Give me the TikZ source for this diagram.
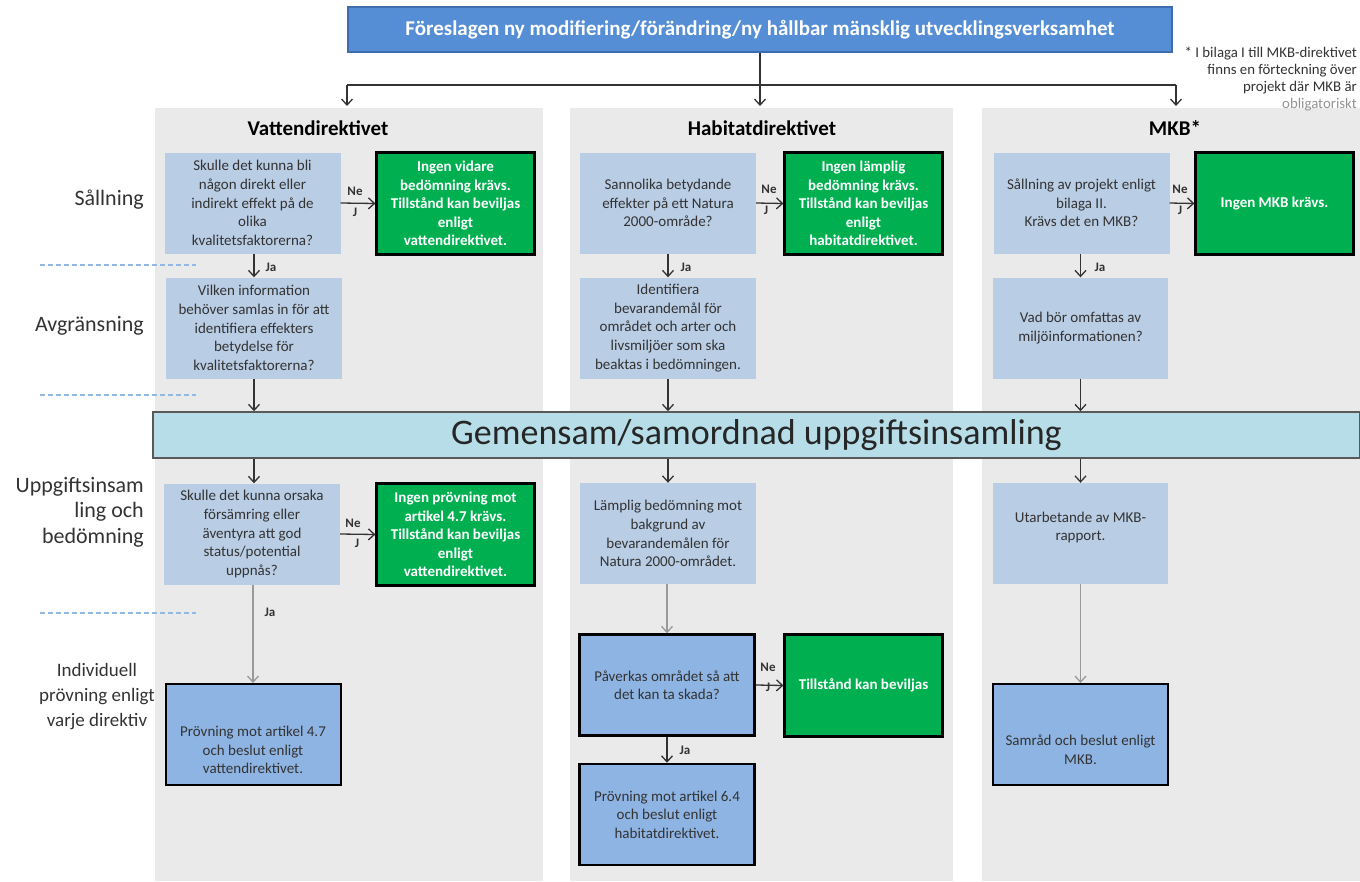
\documentclass[tikz,border=0pt]{standalone}
\usepackage{fontspec}
\setmainfont{Carlito}
\usetikzlibrary{arrows.meta}
\definecolor{colbg}{HTML}{EAEAEA}
\definecolor{lightbox}{HTML}{B9CDE5}
\definecolor{darkbox}{HTML}{8EB4E3}
\definecolor{okgreen}{HTML}{00B050}
\definecolor{topblue}{HTML}{558ED5}
\definecolor{topedge}{HTML}{3E6DAE}
\definecolor{banner}{HTML}{B7DEE8}
\definecolor{ink}{HTML}{333333}
\definecolor{dashblue}{HTML}{95B7E3}
\tikzset{
  qbox/.style={fill=lightbox, draw=none, align=center, text=ink,
    minimum width=176pt, minimum height=101pt, inner sep=2pt,
    font=\fontsize{15}{18.7}\selectfont},
  okbox/.style={fill=okgreen, draw=black, line width=2.2pt, align=center, text=white,
    minimum width=158pt, minimum height=102pt, inner sep=2pt,
    font=\fontsize{15}{18.5}\selectfont\bfseries},
  decbox/.style={fill=darkbox, draw=black, line width=2pt, align=center, text=ink,
    minimum width=175pt, minimum height=101pt, inner sep=2pt,
    font=\fontsize{15}{18.5}\selectfont},
  plain/.style={align=center, text=ink, inner sep=0pt, font=\fontsize{15}{18.7}\selectfont},
  coltitle/.style={text=black, inner sep=0pt, font=\fontsize{21}{25}\selectfont\bfseries},
  rowlabel/.style={text=ink, inner sep=0pt, font=\fontsize{22}{25.5}\selectfont},
  tag/.style={text=ink, inner sep=0pt, font=\fontsize{13}{15}\selectfont\bfseries},
  arr/.style={draw=ink, line width=1.3pt, -{Straight Barb[length=6pt,width=11pt]}},
  grayarr/.style={draw=gray!80, line width=1.3pt, -{Straight Barb[length=6pt,width=11pt]}},
  conn/.style={draw=ink, line width=1.3pt},
  sep/.style={draw=dashblue, line width=2pt, dash pattern=on 5pt off 3pt},
}
\begin{document}
\begin{tikzpicture}[x=1pt,y=-1pt]
\useasboundingbox (0,0) rectangle (1360,881);

% column backgrounds
\fill[colbg] (155,108) rectangle (543,881);
\fill[colbg] (570,108) rectangle (953,881);
\fill[colbg] (982,108) rectangle (1360,881);

% stage separators
\draw[sep] (40,265) -- (196,265);
\draw[sep] (40,395) -- (196,395);
\draw[sep] (40,613) -- (196,613);

% stage labels
\node[rowlabel, anchor=east] (lsal) at (144,200) {Sållning};
\node[rowlabel, anchor=east] (lavg) at (144,326) {Avgränsning};
\node[rowlabel, anchor=east, align=right] (lupp) at (144,512) {Uppgiftsinsam\\ling och\\bedömning};
\node[rowlabel, align=center, font=\fontsize{19}{25}\selectfont] (lind) at (97,697) {Individuell\\prövning enligt\\varje direktiv};

% proposal
\node[fill=topblue, draw=topedge, line width=1.5pt, minimum width=824pt, minimum height=45pt,
  text=white, font=\fontsize{21}{25}\selectfont\bfseries] (top) at (760,29.5)
  {Föreslagen ny modifiering/förändring/ny hållbar mänsklig utvecklingsverksamhet};

\node[anchor=north east, align=right, inner sep=0pt, text=ink,
  font=\fontsize{14.8}{16.8}\selectfont] (note) at (1357,47)
  {* I bilaga I till MKB-direktivet\\finns en förteckning över\\projekt där MKB är\\\textcolor{gray!85}{obligatoriskt}};

\coordinate (hl) at (347,85);
\coordinate (hr) at (1176,85);
\coordinate (ea) at (347,106);
\coordinate (eb) at (760,106);
\coordinate (ec) at (1176,106);
\draw[conn] (hl) -- (hr);
\draw[arr] (top.south) -- (eb);
\draw[arr] (hl) -- (ea);
\draw[arr] (hr) -- (ec);

% column titles
\node[coltitle] (tv) at (318,128) {Vattendirektivet};
\node[coltitle] (th) at (762,128) {Habitatdirektivet};
\node[coltitle] (tm) at (1175,128) {MKB*};

% screening row
\node[qbox] (v1) at (252.5,203) {Skulle det kunna bli\\någon direkt eller\\indirekt effekt på de\\olika\\kvalitetsfaktorerna?};
\node[okbox] (vg1) at (455.5,203.5) {Ingen vidare\\bedömning krävs.\\Tillstånd kan beviljas\\enligt\\vattendirektivet.};
\node[qbox] (h1) at (668,203) {Sannolika betydande\\effekter på ett Natura\\2000-område?};
\node[okbox] (hg1) at (863.5,203.5) {Ingen lämplig\\bedömning krävs.\\Tillstånd kan beviljas\\enligt\\habitatdirektivet.};
\node[qbox] (m1) at (1081.5,203) {Sållning av projekt enligt\\bilaga II.\\Krävs det en MKB?};
\node[okbox] (mg1) at (1274.5,203.5) {Ingen MKB krävs.};

% scoping row
\node[qbox] (v2) at (254,328) {Vilken information\\behöver samlas in för att\\identifiera effekters\\betydelse för\\kvalitetsfaktorerna?};
\node[qbox] (h2) at (668,328) {Identifiera\\bevarandemål för\\området och arter och\\livsmiljöer som ska\\beaktas i bedömningen.};
\node[qbox, minimum width=175pt] (m2) at (1080.5,328) {Vad bör omfattas av\\miljöinformationen?};

% joint data collection
\node[fill=banner, draw=gray!70!black, line width=1.5pt, minimum width=1207pt, minimum height=46pt,
  text=black!85, font=\fontsize{36}{40}\selectfont] (band) at (756.5,435)
  {Gemensam/samordnad uppgiftsinsamling};

% assessment row
\node[qbox] (v3) at (252,534) {Skulle det kunna orsaka\\försämring eller\\äventyra att god\\status/potential\\uppnås?};
\node[okbox] (vg3) at (455.5,534.5) {Ingen prövning mot\\artikel 4.7 krävs.\\Tillstånd kan beviljas\\enligt\\vattendirektivet.};
\node[qbox] (h3) at (668,533.5) {Lämplig bedömning mot\\bakgrund av\\bevarandemålen för\\Natura 2000-området.};
\node[qbox, minimum width=175pt] (m3) at (1080.5,533.5) {};
\node[plain] (m3t) at (1080.5,527.5) {Utarbetande av MKB-\\rapport.};

% individual examination row
\node[decbox] (v4) at (253,734.5) {};
\node[plain] (v4t) at (253,750) {Prövning mot artikel 4.7\\och beslut enligt\\vattendirektivet.};
\node[decbox, line width=2.5pt] (h4) at (667,685) {Påverkas området så att\\det kan ta skada?};
\node[okbox] (hg4) at (863.5,685.5) {Tillstånd kan beviljas};
\node[decbox, line width=2.5pt] (h5) at (667,814.5) {Prövning mot artikel 6.4\\och beslut enligt\\habitatdirektivet.};
\node[decbox] (m4) at (1080.5,734.5) {};
\node[plain] (m4t) at (1080.5,750) {Samråd och beslut enligt\\MKB.};

% "No" branches
\draw[arr] (v1.east) -- (vg1.west);
\node[tag] (n1) at (355,191) {Ne};
\node[tag] (j1) at (355,212) {J};
\draw[arr] (h1.east) -- (hg1.west);
\node[tag] (n2) at (769,189) {Ne};
\node[tag] (j2) at (766,210) {J};
\draw[arr] (m1.east) -- (mg1.west);
\node[tag] (n3) at (1180,189) {Ne};
\node[tag] (j3) at (1180,210) {J};
\draw[arr] (v3.east) -- (vg3.west);
\node[tag] (n4) at (353,523) {Ne};
\node[tag] (j4) at (357,543) {J};
\draw[arr] (h4.east) -- (hg4.west);
\node[tag] (n5) at (768,667) {Ne};
\node[tag] (j5) at (768,687) {J};

% "Yes" branches
\draw[arr] (v1.south -| v2.north) -- (v2.north);
\node[tag] (y1) at (271,267) {Ja};
\draw[arr] (h1.south) -- (h2.north);
\node[tag] (y2) at (686,267) {Ja};
\draw[arr] (m1.south -| m2.north) -- (m2.north);
\node[tag] (y3) at (1100,267) {Ja};

% into and out of the joint collection
\draw[arr] (v2.south) -- (v2.south |- band.north);
\draw[arr] (h2.south) -- (h2.south |- band.north);
\draw[arr] (m2.south) -- (m2.south |- band.north);
\draw[arr] (v2.south |- band.south) -- (v3.north -| v2.south);
\draw[arr] (h2.south |- band.south) -- (h3.north);
\draw[arr] (m2.south |- band.south) -- (m3.north);

% towards the individual examination
\draw[grayarr] (v3.south -| v4.north) -- (v4.north);
\node[tag] (y4) at (270,612) {Ja};
\draw[grayarr] (h3.south -| h4.north) -- (h4.north);
\draw[grayarr] (m3.south) -- (m4.north);
\draw[arr] (h4.south) -- (h5.north);
\node[tag] (y5) at (685,750) {Ja};

\end{tikzpicture}
\end{document}
